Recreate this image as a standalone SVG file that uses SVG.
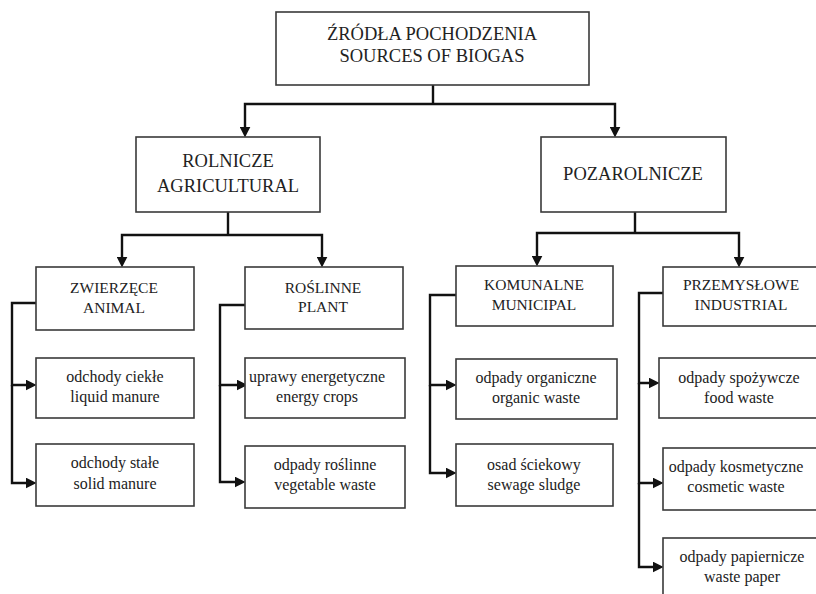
<svg xmlns="http://www.w3.org/2000/svg" width="816" height="594" viewBox="0 0 816 594">
<style>
.box{fill:#fff;stroke:#3a3a3a;stroke-width:1.6}
.t{font-family:"Liberation Serif","Times New Roman",serif;fill:#222;text-anchor:middle}
.h1{font-size:18.5px}
.h2{font-size:15.5px}
.lf{font-size:16px}
.c{fill:none;stroke:#111;stroke-width:2.4}
</style>
<defs>
<marker id="ah" viewBox="0 0 10 10" markerWidth="11" markerHeight="11" refX="4" refY="5" orient="auto" markerUnits="userSpaceOnUse">
<path d="M0,0 L10,5 L0,10 z" fill="#111"/>
</marker>
</defs>
<rect width="816" height="594" fill="#fff"/>
<g id="connectors">
<path class="c" d="M433,85 V104"/>
<path class="c" d="M433,104 H245 V131" marker-end="url(#ah)"/>
<path class="c" d="M433,104 H615 V131" marker-end="url(#ah)"/>
<path class="c" d="M228,212 V235"/>
<path class="c" d="M228,235 H122 V261" marker-end="url(#ah)"/>
<path class="c" d="M228,235 H322 V261" marker-end="url(#ah)"/>
<path class="c" d="M635,212 V233"/>
<path class="c" d="M635,233 H537 V260" marker-end="url(#ah)"/>
<path class="c" d="M635,233 H739 V261" marker-end="url(#ah)"/>
<path class="c" d="M36,303 H12 V385 H30" marker-end="url(#ah)"/>
<path class="c" d="M12,385 V483 H30" marker-end="url(#ah)"/>
<path class="c" d="M247,305 H220 V385 H241" marker-end="url(#ah)"/>
<path class="c" d="M220,385 V482 H239" marker-end="url(#ah)"/>
<path class="c" d="M456,295 H430 V385 H450" marker-end="url(#ah)"/>
<path class="c" d="M430,385 V473 H450" marker-end="url(#ah)"/>
<path class="c" d="M664,293 H639 V383 H653" marker-end="url(#ah)"/>
<path class="c" d="M639,383 V483 H657" marker-end="url(#ah)"/>
<path class="c" d="M639,483 V567 H657" marker-end="url(#ah)"/>
</g>
<g id="root">
<rect class="box" x="276" y="12" width="313" height="73"/>
<text class="t h1" x="432" y="40">ŹRÓDŁA POCHODZENIA</text>
<text class="t h1" x="432" y="62">SOURCES OF BIOGAS</text>
</g>
<g id="rolnicze">
<rect class="box" x="136" y="137" width="184" height="75"/>
<text class="t h1" x="228" y="167">ROLNICZE</text>
<text class="t h1" x="228" y="192">AGRICULTURAL</text>
</g>
<g id="pozarolnicze">
<rect class="box" x="541" y="137" width="185" height="75"/>
<text class="t h1" x="633" y="180">POZAROLNICZE</text>
</g>
<g id="zwierzece">
<rect class="box" x="36" y="267" width="158" height="63"/>
<text class="t h2" x="114" y="293">ZWIERZĘCE</text>
<text class="t h2" x="114" y="313">ANIMAL</text>
</g>
<g id="roslinne">
<rect class="box" x="245" y="267" width="158" height="62"/>
<text class="t h2" x="323" y="293">ROŚLINNE</text>
<text class="t h2" x="323" y="312">PLANT</text>
</g>
<g id="komunalne">
<rect class="box" x="456" y="266" width="157" height="60"/>
<text class="t h2" x="534" y="290">KOMUNALNE</text>
<text class="t h2" x="534" y="310">MUNICIPAL</text>
</g>
<g id="przemyslowe">
<rect class="box" x="663" y="267" width="156" height="59"/>
<text class="t h2" x="741" y="290">PRZEMYSŁOWE</text>
<text class="t h2" x="741" y="310">INDUSTRIAL</text>
</g>
<g id="liquid">
<rect class="box" x="36" y="358" width="158" height="60"/>
<text class="t lf" x="115" y="382">odchody ciekłe</text>
<text class="t lf" x="115" y="402">liquid manure</text>
</g>
<g id="solid">
<rect class="box" x="36" y="444" width="158" height="62"/>
<text class="t lf" x="115" y="468">odchody stałe</text>
<text class="t lf" x="115" y="489">solid manure</text>
</g>
<g id="energy">
<rect class="box" x="245" y="358" width="160" height="60"/>
<text class="t lf" x="317" y="382">uprawy energetyczne</text>
<text class="t lf" x="317" y="402">energy crops</text>
</g>
<g id="vegetable">
<rect class="box" x="245" y="446" width="160" height="62"/>
<text class="t lf" x="325" y="470">odpady roślinne</text>
<text class="t lf" x="325" y="490">vegetable waste</text>
</g>
<g id="organic">
<rect class="box" x="456" y="359" width="161" height="60"/>
<text class="t lf" x="536" y="383">odpady organiczne</text>
<text class="t lf" x="536" y="403">organic waste</text>
</g>
<g id="sewage">
<rect class="box" x="456" y="444" width="157" height="62"/>
<text class="t lf" x="534" y="470">osad ściekowy</text>
<text class="t lf" x="534" y="490">sewage sludge</text>
</g>
<g id="food">
<rect class="box" x="659" y="358" width="160" height="60"/>
<text class="t lf" x="739" y="383">odpady spożywcze</text>
<text class="t lf" x="739" y="403">food waste</text>
</g>
<g id="cosmetic">
<rect class="box" x="663" y="448" width="156" height="62"/>
<text class="t lf" x="736" y="472">odpady kosmetyczne</text>
<text class="t lf" x="736" y="492">cosmetic waste</text>
</g>
<g id="paper">
<rect class="box" x="663" y="538" width="156" height="62"/>
<text class="t lf" x="742" y="562">odpady papiernicze</text>
<text class="t lf" x="742" y="582">waste paper</text>
</g>
</svg>
